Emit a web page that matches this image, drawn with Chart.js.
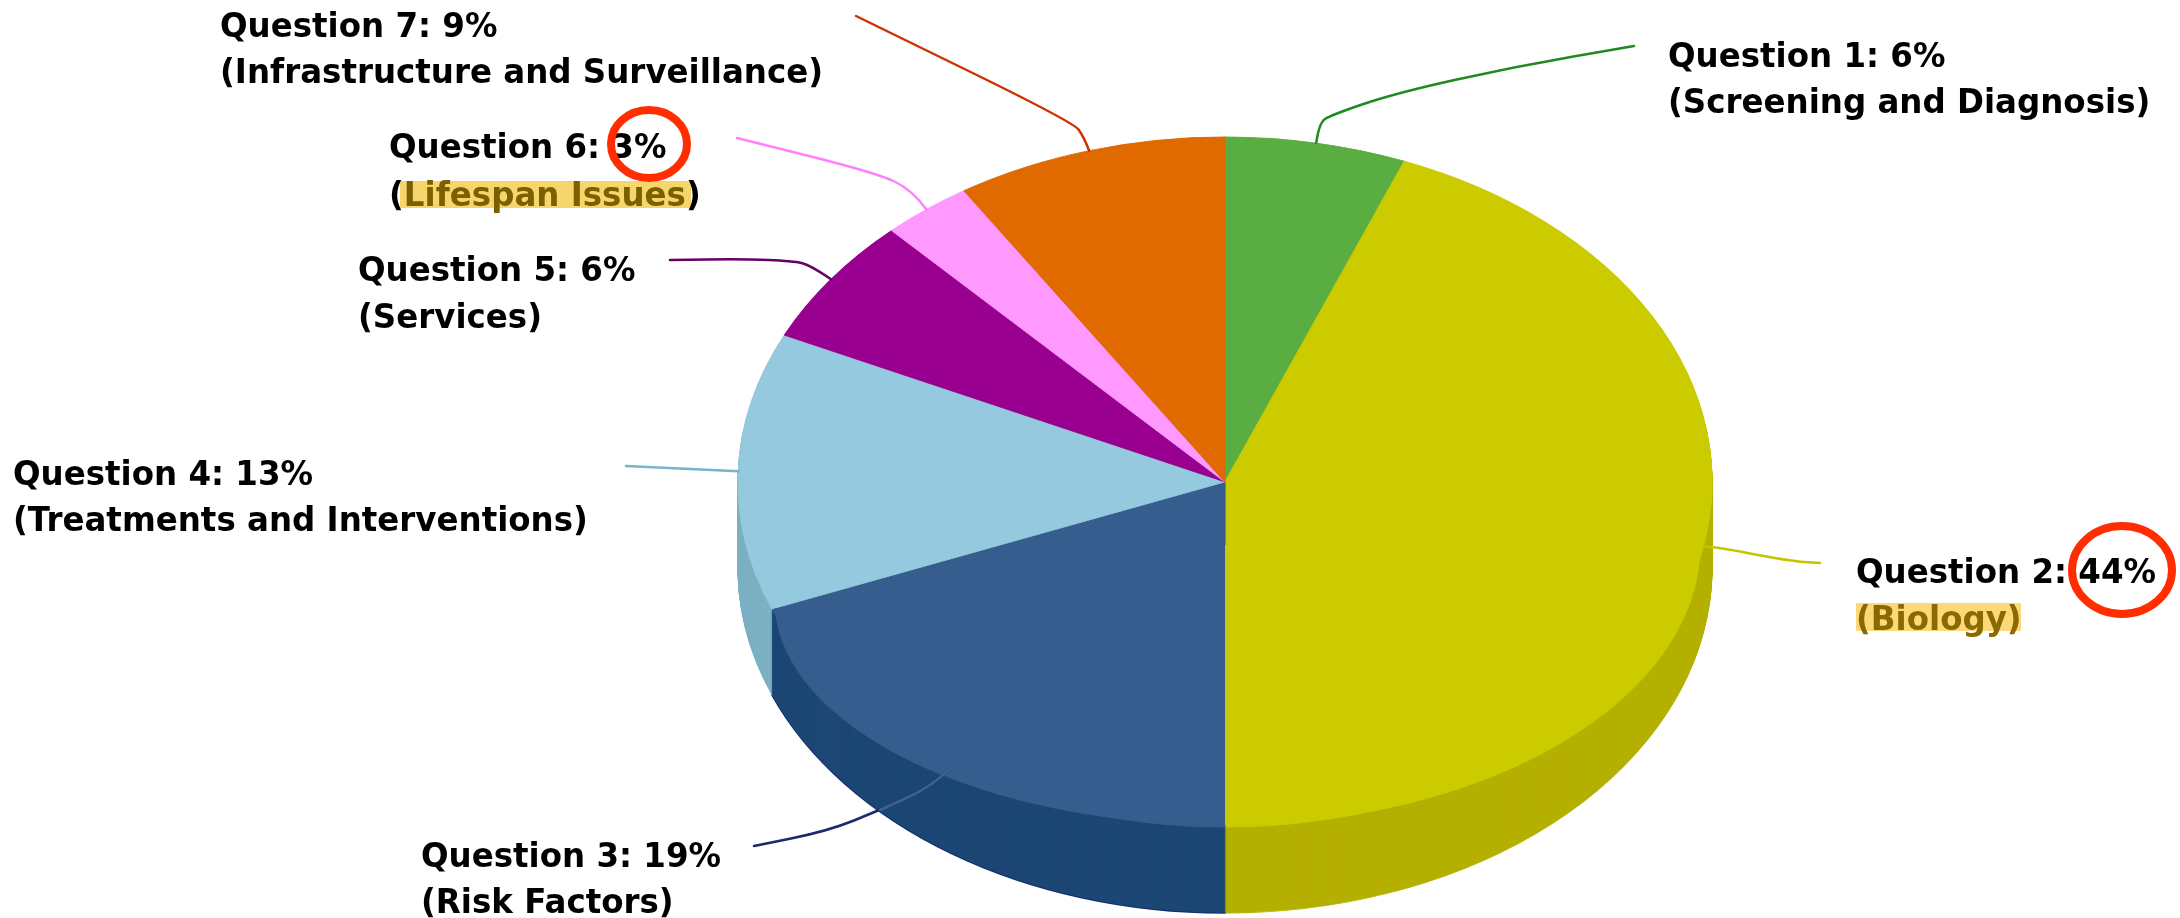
<!DOCTYPE html>
<html>
<head>
<meta charset="utf-8">
<title>Questions pie</title>
<script src="https://cdn.jsdelivr.net/npm/chart.js@4/dist/chart.umd.min.js"></script>
<style>
    html, body { margin: 0; padding: 0; background: #fff; }
    canvas { display: block; }
</style>
</head>
<body>
<canvas id="pieChart" width="2180" height="918"></canvas>
<script>
// Data
const questions = ['Question 1', 'Question 2', 'Question 3', 'Question 4', 'Question 5', 'Question 6', 'Question 7'];
const topics = ['Screening and Diagnosis', 'Biology', 'Risk Factors', 'Treatments and Interventions', 'Services', 'Lifespan Issues', 'Infrastructure and Surveillance'];
const shares = [6, 44, 19, 13, 6, 3, 9];

const topColors = ['#5aad40', '#cbcb00', '#355d8e', '#95c9de', '#990090', '#ff99ff', '#e06900'];
const sideColors = ['#4a9033', '#b5b000', '#1d4774', '#7db0c4', '#7a0073', '#d97fd9', '#b85600'];
const leaderColors = ['#1f8a1f', '#c4c400', '#1a2a6c', '#78b4c8', '#660066', '#ff80ff', '#cc3300'];

// Ellipse of the top face and height of the rim, in page pixels
const PIE = { x: 1225, y: 482, rx: 487, ry: 345, depth: 86 };
const FONT = 'bold 34px "DejaVu Sans"';
const SQUEEZE = 0.955; // reference type is narrower than DejaVu

// Label anchors: left edge, first baseline, second baseline
const labelPos = [
    [1668, 67, 113],
    [1856, 583, 630],
    [421, 867, 913],
    [13, 485, 531],
    [358, 281, 328],
    [389, 158, 206],
    [220, 37, 83]
];

// Leader bends after the rim point, running out to the label
const leaderBends = [
    [[1319, 123], [1331, 115], [1396, 93], [1513, 67], [1634, 46]],
    [[1711, 546], [1789, 561], [1820, 563]],
    [[933, 786], [880, 810], [828, 831], [754, 846]],
    [[626, 466]],
    [[810, 265], [793, 261], [744, 259], [670, 260]],
    [[912, 190], [877, 173], [737, 138]],
    [[1084, 137], [1073, 122], [856, 16]]
];

function pieTransform(ctx, arc, cy, rx, ry) {
    ctx.translate(PIE.x, cy);
    ctx.scale(rx / arc.outerRadius, ry / arc.outerRadius);
    ctx.translate(-arc.x, -arc.y);
}

// Rim point of a slice middle, on the squashed top face
function rimPoint(arc) {
    const mid = (arc.startAngle + arc.endAngle) / 2;
    return [PIE.x + PIE.rx * Math.cos(mid), PIE.y + PIE.ry * Math.sin(mid)];
}

function drawArcAs(ctx, arc, fill, extra) {
    const own = arc.options;
    arc.options = Object.assign({}, own, { backgroundColor: fill, borderColor: fill }, extra);
    arc.draw(ctx);
    arc.options = own;
}

// The reference has perspective: the front of the top face bulges past the ellipse.
// Same slice again, clipped to a box, with a lower and flatter ellipse.
function bulge(ctx, arc, fill, box, cy, rx, ry) {
    ctx.save();
    ctx.beginPath();
    ctx.rect(box[0], box[1], box[2], box[3]);
    ctx.clip();
    pieTransform(ctx, arc, cy, rx, ry);
    drawArcAs(ctx, arc, fill);
    ctx.restore();
}

function smoothLine(ctx, pts) {
    ctx.beginPath();
    ctx.moveTo(pts[0][0], pts[0][1]);
    for (let i = 1; i < pts.length - 1; i++) {
        const mx = (pts[i][0] + pts[i + 1][0]) / 2;
        const my = (pts[i][1] + pts[i + 1][1]) / 2;
        ctx.quadraticCurveTo(pts[i][0], pts[i][1], mx, my);
    }
    const end = pts[pts.length - 1];
    ctx.lineTo(end[0], end[1]);
    ctx.stroke();
}

function squeezedText(ctx, text, x, y) {
    ctx.fillText(text, x, y, ctx.measureText(text).width * SQUEEZE);
}

const pie3d = {
    id: 'pie3d',
    beforeDatasetDraw(chart) {
        const ctx = chart.ctx;
        const arcs = chart.getDatasetMeta(0).data;

        // Rim: stack of darker copies of the slices
        for (let d = PIE.depth; d > 0; d--) {
            arcs.forEach((arc, i) => {
                ctx.save();
                pieTransform(ctx, arc, PIE.y + d, PIE.rx, PIE.ry);
                const edge = d === PIE.depth && i === 2 ? { borderColor: '#12306e', borderWidth: 2 } : {};
                drawArcAs(ctx, arc, sideColors[i], edge);
                ctx.restore();
            });
        }
        ctx.save();
        pieTransform(ctx, arcs[0], PIE.y, PIE.rx, PIE.ry);
    },
    afterDatasetDraw(chart) {
        const ctx = chart.ctx;
        const arcs = chart.getDatasetMeta(0).data;
        ctx.restore();

        // Front bulge of the yellow and blue slices
        bulge(ctx, arcs[1], topColors[1], [PIE.x, 545, 600, 300], 545, 475, 280);
        bulge(ctx, arcs[1], topColors[2], [PIE.x - 600, 608, 600, 300], 600, -450, 225);
    },
    afterDraw(chart) {
        const ctx = chart.ctx;
        const arcs = chart.getDatasetMeta(0).data;

        // Leaders
        ctx.save();
        ctx.lineWidth = 2.5;
        ctx.lineCap = 'round';
        arcs.forEach((arc, i) => {
            const pts = [rimPoint(arc)].concat(leaderBends[i]);
            ctx.strokeStyle = leaderColors[i];
            smoothLine(ctx, pts);
        });
        // Part of the blue leader that runs over the rim is pale
        ctx.strokeStyle = '#3d6391';
        smoothLine(ctx, [rimPoint(arcs[2])].concat(leaderBends[2].slice(0, 2)));
        ctx.restore();

        // Highlight bars
        ctx.fillStyle = '#f6d56c';
        ctx.fillRect(400, 181, 291, 27);
        ctx.fillStyle = '#fdd878';
        ctx.fillRect(1856, 603, 165, 28);

        // Labels
        ctx.save();
        ctx.font = FONT;
        ctx.textBaseline = 'alphabetic';
        questions.forEach((q, i) => {
            const [x, y1, y2] = labelPos[i];
            ctx.fillStyle = '#000';
            squeezedText(ctx, `${q}: ${shares[i]}%`, x, y1);
            if (i === 5) {
                const open = ctx.measureText('(').width * SQUEEZE;
                const word = ctx.measureText(topics[i]).width * SQUEEZE;
                squeezedText(ctx, '(', x, y2);
                ctx.fillStyle = '#7a6000';
                squeezedText(ctx, topics[i], x + open, y2);
                ctx.fillStyle = '#000';
                squeezedText(ctx, ')', x + open + word, y2);
            } else {
                ctx.fillStyle = i === 1 ? '#8a6a00' : '#000';
                squeezedText(ctx, `(${topics[i]})`, x, y2);
            }
        });
        ctx.restore();

        // Red circles round the two percentages
        ctx.save();
        ctx.strokeStyle = '#ff2d00';
        ctx.lineWidth = 8;
        ctx.beginPath();
        ctx.ellipse(649, 144, 38, 34, 0, 0, Math.PI * 2);
        ctx.stroke();
        ctx.beginPath();
        ctx.ellipse(2122, 570, 50, 44, 0, 0, Math.PI * 2);
        ctx.stroke();
        ctx.restore();
    }
};

new Chart(document.getElementById('pieChart'), {
    type: 'pie',
    data: {
        labels: questions,
        datasets: [{
            data: shares,
            backgroundColor: topColors,
            borderColor: topColors,
            borderWidth: 1,
            clip: false
        }]
    },
    options: {
        responsive: false,
        devicePixelRatio: 1,
        animation: false,
        layout: { padding: { left: 270, top: 46 } },
        plugins: {
            legend: { display: false },
            tooltip: { enabled: false }
        }
    },
    plugins: [pie3d]
});
</script>
</body>
</html>
